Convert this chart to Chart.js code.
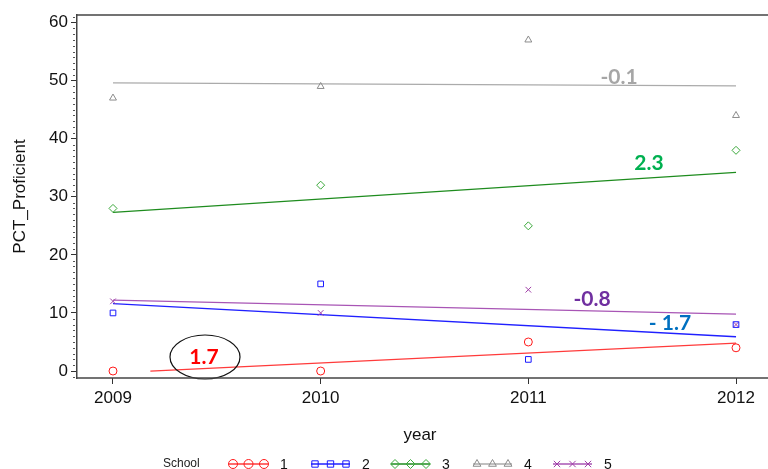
<!DOCTYPE html>
<html>
<head>
<meta charset="utf-8">
<script src="https://cdn.jsdelivr.net/npm/chart.js@4/dist/chart.umd.min.js"></script>
<style>
  html, body { margin: 0; padding: 0; background: #fff; overflow: hidden; }
  #wrap { position: relative; width: 768px; height: 469px; }
</style>
</head>
<body>
<div id="wrap"><canvas id="c" width="768" height="469"></canvas></div>
<script>
// data
const years = [2009, 2010, 2011, 2012];
const schools = ['1', '2', '3', '4', '5'];
const pct1 = [0, 0, 5, 4];
const pct2 = [10, 15, 2, 8];
const pct3 = [28, 32, 25, 38];
const pct4 = [47, 49, 57, 44];
const pct5 = [12, 10, 14, 8];
// fitted lines: start/end points as seen in the picture
const fit1 = [[2009.18, 0], [2012, 4.8]];
const fit2 = [[2009, 11.6], [2012, 5.9]];
const fit3 = [[2009, 27.3], [2012, 34.2]];
const fit4 = [[2009, 49.6], [2012, 49.1]];
const fit5 = [[2009, 12.2], [2012, 9.8]];
const slopeLabels = ['1.7', '- 1.7', '2.3', '-0.1', '-0.8'];
const yTicks = [0, 10, 20, 30, 40, 50, 60];

const series = [pct1, pct2, pct3, pct4, pct5];
const fits = [fit1, fit2, fit3, fit4, fit5];
const markColors = ['#ff1a1a', '#1a1aff', '#3aa83a', '#8c8c8c', '#a040a8'];
const lineColors = ['#ff3b3b', '#2020ff', '#1e8c1e', '#ababab', '#a855b5'];
const styles = ['circle', 'rect', 'rectRot', 'triangle', 'crossRot'];
const labelColors = ['#ff0000', '#0070c0', '#00b050', '#a6a6a6', '#7030a0'];

const datasets = [];
series.forEach((vals, i) => {
  datasets.push({
    type: 'scatter',
    data: vals.map((v, j) => ({ x: years[j], y: v })),
    pointStyle: styles[i],
    pointRadius: 4,
    borderColor: markColors[i],
    backgroundColor: 'rgba(0,0,0,0)',
    pointBorderWidth: 1,
    showLine: false
  });
});
fits.forEach((f, i) => {
  datasets.push({
    type: 'line',
    data: f.map(p => ({ x: p[0], y: p[1] })),
    borderColor: lineColors[i],
    borderWidth: 1.3,
    pointRadius: 0,
    fill: false
  });
});

const decor = {
  id: 'decor',
  afterDraw(chart) {
    const ctx = chart.ctx, a = chart.chartArea;
    const ys = chart.scales.y;
    ctx.save();
    // top frame line
    ctx.strokeStyle = '#444';
    ctx.lineWidth = 1.5;
    ctx.beginPath();
    ctx.moveTo(a.left, a.top); ctx.lineTo(768, a.top);
    ctx.stroke();
    // minor y ticks
    ctx.strokeStyle = '#555';
    ctx.lineWidth = 1;
    for (let v = -1; v <= 61; v++) {
      if (v % 10 === 0) continue;
      const py = Math.round(ys.getPixelForValue(v)) + 0.5;
      ctx.beginPath();
      ctx.moveTo(a.left - 4, py); ctx.lineTo(a.left - 2, py);
      ctx.stroke();
    }
    // slope labels
    const pos = [[204, 357], [670, 323], [649, 163], [619, 77], [592, 299]];
    ctx.font = 'bold 21px Lato, "Open Sans", sans-serif';
    ctx.textAlign = 'center';
    ctx.textBaseline = 'middle';
    slopeLabels.forEach((t, i) => {
      ctx.fillStyle = labelColors[i];
      ctx.fillText(t, pos[i][0], pos[i][1]);
    });
    // ellipse round the red label
    ctx.strokeStyle = '#111';
    ctx.lineWidth = 1.2;
    ctx.beginPath();
    ctx.ellipse(205, 357, 35, 22, 0, 0, Math.PI * 2);
    ctx.stroke();
    // legend
    const ly = 464;
    ctx.font = '12px "Liberation Sans", Arial, sans-serif';
    ctx.fillStyle = '#222';
    ctx.textAlign = 'left';
    ctx.fillText('School', 163, ly);
    const starts = [229, 311, 391, 473, 553];
    ctx.font = '14px "Liberation Sans", Arial, sans-serif';
    schools.forEach((s, i) => {
      const x0 = starts[i];
      ctx.strokeStyle = lineColors[i];
      ctx.lineWidth = 1.3;
      ctx.beginPath();
      ctx.moveTo(x0, ly); ctx.lineTo(x0 + 39, ly);
      ctx.stroke();
      ctx.strokeStyle = markColors[i];
      ctx.fillStyle = 'rgba(0,0,0,0)';
      ctx.lineWidth = 1;
      [4, 19.5, 35].forEach(dx => {
        Chart.helpers.drawPoint(ctx, { pointStyle: styles[i], radius: 4.5, borderWidth: 1 }, x0 + dx, ly);
      });
      ctx.fillStyle = '#111';
      ctx.fillText(s, x0 + 51, ly + 1);
    });
    ctx.restore();
  }
};

new Chart(document.getElementById('c'), {
  data: { datasets },
  options: {
    responsive: false,
    animation: false,
    layout: { padding: { top: 15, right: 0, bottom: 21, left: 0 } },
    plugins: { legend: { display: false }, tooltip: { enabled: false } },
    scales: {
      x: {
        type: 'linear',
        min: 2008.8267,
        max: 2012.13,
        afterBuildTicks: s => { s.ticks = years.map(v => ({ value: v })); },
        afterFit: s => { s.height = 70; },
        ticks: {
          callback: v => String(v),
          color: '#111',
          font: { family: '"Liberation Sans", Arial, sans-serif', size: 17 },
          padding: 4
        },
        grid: { drawOnChartArea: false, tickLength: 6, tickColor: '#333' },
        border: { display: false },
        title: {
          display: true, text: 'year', color: '#111',
          font: { family: '"Liberation Sans", Arial, sans-serif', size: 17 },
          padding: { top: 4, bottom: 2 }
        }
      },
      y: {
        type: 'linear',
        min: -1.2,
        max: 61.3,
        afterBuildTicks: s => { s.ticks = yTicks.map(v => ({ value: v })); },
        afterFit: s => { s.width = 77; },
        ticks: {
          color: '#111',
          font: { family: '"Liberation Sans", Arial, sans-serif', size: 17 },
          padding: 3
        },
        grid: { drawOnChartArea: false, tickLength: 6, tickColor: '#333' },
        border: { display: true, color: '#444', width: 1.5 },
        title: {
          display: true, text: 'PCT_Proficient', color: '#111',
          font: { family: '"Liberation Sans", Arial, sans-serif', size: 17 },
          padding: { top: 10, bottom: 0 }
        }
      }
    }
  },
  plugins: [decor, {
    id: 'xline',
    afterDraw(chart) {
      const ctx = chart.ctx, a = chart.chartArea;
      ctx.save();
      ctx.strokeStyle = '#444';
      ctx.lineWidth = 1.5;
      ctx.beginPath();
      ctx.moveTo(a.left, a.bottom); ctx.lineTo(768, a.bottom);
      ctx.stroke();
      ctx.restore();
    }
  }]
});
</script>
</body>
</html>
